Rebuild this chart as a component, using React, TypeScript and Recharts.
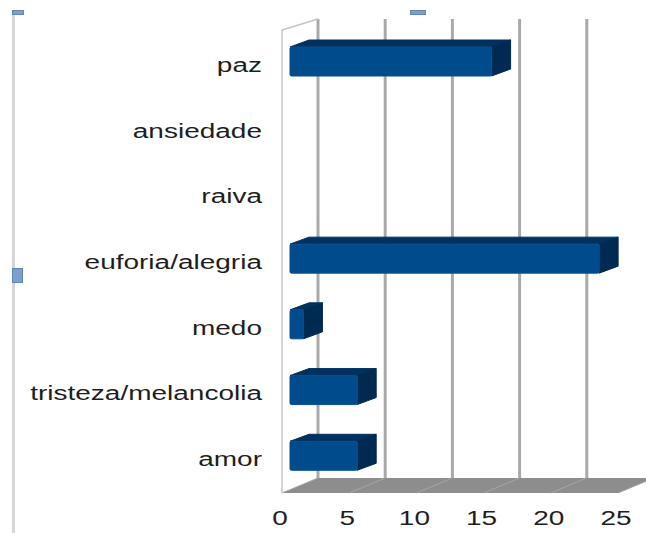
import { BarChart, Bar, XAxis, YAxis, CartesianGrid, ReferenceArea } from 'recharts';

const categories = ['paz', 'ansiedade', 'raiva', 'euforia/alegria', 'medo', 'tristeza/melancolia', 'amor'];
const counts = [15, 0, 0, 23, 1, 5, 5];
const xTicks = [0, 5, 10, 15, 20, 25];

const data = categories.map((name, i) => ({ name, value: counts[i] }));

// fake 3d: how far the back wall sits from the front plane
const DEPTH_X = 36;
const DEPTH_Y = 15;
// bars sit a bit inside the box, and have their own depth
const BAR_SHIFT_X = 8;
const BAR_SHIFT_Y = -4;
const BAR_DX = 19;
const BAR_DY = 7;

const FONT = '"Liberation Sans", Arial, sans-serif';
const TEXT_COLOR = '#1e1e1e';
const STRETCH = 1.4;

function BoxBar(props: any) {
  const { x, y, width, height } = props;
  if (!width || width <= 0) return null;
  const x0 = x + BAR_SHIFT_X;
  const y0 = y + BAR_SHIFT_Y;
  const w = width;
  const h = height;
  return (
    <g strokeLinejoin="round">
      <polygon
        points={`${x0},${y0} ${x0 + BAR_DX},${y0 - BAR_DY} ${x0 + w + BAR_DX},${y0 - BAR_DY} ${x0 + w},${y0}`}
        fill="#00315f"
        stroke="#00315f"
        strokeWidth={1}
      />
      <polygon
        points={`${x0 + w},${y0} ${x0 + w + BAR_DX},${y0 - BAR_DY} ${x0 + w + BAR_DX},${y0 + h - BAR_DY} ${x0 + w},${y0 + h}`}
        fill="#002a52"
        stroke="#002a52"
        strokeWidth={1}
      />
      <rect x={x0} y={y0} width={w} height={h} fill="#004b8c" stroke="#0a4f8e" strokeWidth={1} rx={1.5} />
    </g>
  );
}

function BackGridLine(props: any) {
  const { x1, y1, y2 } = props;
  return (
    <line
      key={props.key}
      x1={x1 + DEPTH_X}
      y1={y1 - 14}
      x2={x1 + DEPTH_X}
      y2={y2 - DEPTH_Y}
      stroke="#a9a9a9"
      strokeWidth={3}
    />
  );
}

function Floor(props: any) {
  const { x, y, width, height } = props;
  const bottom = y + height;
  const top = bottom - DEPTH_Y;
  const step = width / (xTicks.length - 1);
  return (
    <g>
      <polygon
        points={`${x},${bottom} ${x + width},${bottom} ${x + width + DEPTH_X},${top} ${x + DEPTH_X},${top}`}
        fill="#8d8d8d"
      />
      {xTicks.map((t, i) => (
        <line
          key={t}
          x1={x + step * i}
          y1={bottom}
          x2={x + step * i + DEPTH_X}
          y2={top}
          stroke="#a5a5a5"
          strokeWidth={1}
        />
      ))}
      <line x1={x} y1={bottom} x2={x} y2={y - 3} stroke="#c4c4c4" strokeWidth={1.5} />
      <line x1={x} y1={y - 3} x2={x + DEPTH_X} y2={y - 14} stroke="#c4c4c4" strokeWidth={1.5} />
    </g>
  );
}

function CategoryTick(props: any) {
  const { y, payload } = props;
  return (
    <text
      transform={`translate(262, ${y + 6}) scale(${STRETCH}, 1)`}
      textAnchor="end"
      fontSize={20}
      fontFamily={FONT}
      fill={TEXT_COLOR}
    >
      {payload.value}
    </text>
  );
}

function ValueTick(props: any) {
  const { x, payload } = props;
  return (
    <text
      transform={`translate(${x - 2}, 525) scale(${STRETCH}, 1)`}
      textAnchor="middle"
      fontSize={20}
      fontFamily={FONT}
      fill={TEXT_COLOR}
    >
      {payload.value}
    </text>
  );
}

export default function App() {
  return (
    <div style={{ position: 'absolute', left: 0, top: 0, width: 646, height: 533, background: '#fff' }}>
      {/* frame line + selection handles */}
      <div style={{ position: 'absolute', left: 12, top: 14, width: 3, height: 519, background: '#d6d6d6' }} />
      <div style={{ position: 'absolute', left: 12, top: 10, width: 12, height: 5, background: '#7d9fcc', boxSizing: 'border-box', border: '1px solid #5f86bb' }} />
      <div style={{ position: 'absolute', left: 410, top: 10, width: 16, height: 5, background: '#7d9fcc', boxSizing: 'border-box', border: '1px solid #5f86bb' }} />
      <div style={{ position: 'absolute', left: 12, top: 268, width: 11, height: 15, background: '#7d9fcc', boxSizing: 'border-box', border: '1px solid #5f86bb' }} />
      <BarChart
        width={646}
        height={533}
        data={data}
        layout="vertical"
        margin={{ top: 33, right: 28, left: 10, bottom: 10 }}
        style={{ position: 'absolute', left: 0, top: 0 }}
      >
        <CartesianGrid horizontal={false} vertical={BackGridLine} />
        <ReferenceArea x1={0} x2={25} shape={Floor} ifOverflow="visible" />
        <XAxis
          type="number"
          domain={[0, 25]}
          ticks={xTicks}
          axisLine={false}
          tickLine={false}
          height={30}
          tick={ValueTick}
        />
        <YAxis
          type="category"
          dataKey="name"
          width={272}
          axisLine={false}
          tickLine={false}
          tick={CategoryTick}
          interval={0}
        />
        <Bar dataKey="value" barSize={29} shape={BoxBar} isAnimationActive={false} />
      </BarChart>
    </div>
  );
}
